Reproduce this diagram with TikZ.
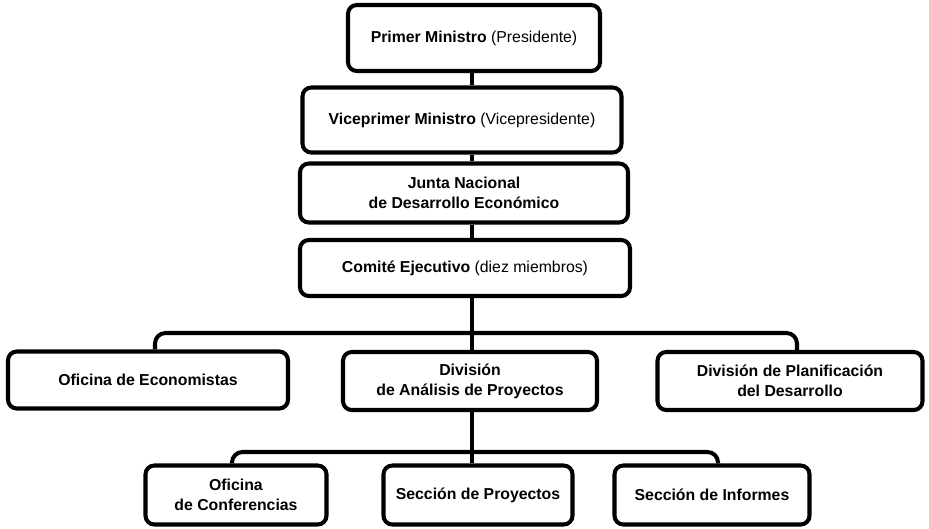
\documentclass[tikz,border=0pt]{standalone}
\usepackage{fontspec}
\setmainfont{Liberation Sans}
\usepackage{tikz}
\usetikzlibrary{shapes.geometric, arrows}
\tikzstyle{box} = [rectangle, rounded corners=5pt,
line width=2.3pt,
inner sep=0pt,
text centered, align=center,
font=\fontsize{9}{11.5}\selectfont,
draw=black]
\tikzstyle{link} = [line width=2.3pt, rounded corners=6pt]

\begin{document}
\begin{tikzpicture}[x=0.02cm, y=-0.02cm]
\useasboundingbox (0,0) rectangle (929,528);

% Niveau superieur
\node[box, minimum width=252*0.02cm, minimum height=66*0.02cm] (pm) at (474,38)
  {\textbf{Primer Ministro} (Presidente)};
\node[box, minimum width=319*0.02cm, minimum height=65*0.02cm] (vpm) at (462,120)
  {\textbf{Viceprimer Ministro} (Vicepresidente)};
\node[box, minimum width=328*0.02cm, minimum height=59*0.02cm] (junta) at (464,193)
  {\textbf{Junta Nacional}\\\textbf{de Desarrollo Económico}};
\node[box, minimum width=330*0.02cm, minimum height=56*0.02cm] (comite) at (465,268)
  {\textbf{Comité Ejecutivo} (diez miembros)};

% Divisions
\node[box, minimum width=280*0.02cm, minimum height=57*0.02cm] (ofeco) at (148,380)
  {\textbf{Oficina de Economistas}};
\node[box, minimum width=254*0.02cm, minimum height=58*0.02cm] (divan) at (470,381)
  {\textbf{División}\\\textbf{de Análisis de Proyectos}};
\node[box, minimum width=265*0.02cm, minimum height=58*0.02cm] (divpl) at (790,381)
  {\textbf{División de Planificación}\\\textbf{del Desarrollo}};

% Sections
\node[box, minimum width=181*0.02cm, minimum height=59*0.02cm] (ofconf) at (236,495)
  {\textbf{Oficina}\\\textbf{de Conferencias}};
\node[box, minimum width=189*0.02cm, minimum height=59*0.02cm] (secpro) at (478,495)
  {\textbf{Sección de Proyectos}};
\node[box, minimum width=195*0.02cm, minimum height=59*0.02cm] (secinf) at (712,495)
  {\textbf{Sección de Informes}};

% Points des barres
\coordinate (tronc) at (472,0);
\coordinate (bushaut) at (472,333);
\coordinate (busg) at (155,333);
\coordinate (busd) at (797,333);
\coordinate (busbas) at (472,452);
\coordinate (basg) at (232,452);
\coordinate (basd) at (718,452);

% Lignes verticales
\draw[link] (pm.south -| tronc) -- (vpm.north -| tronc);
\draw[link] (vpm.south -| tronc) -- (junta.north -| tronc);
\draw[link] (junta.south -| tronc) -- (comite.north -| tronc);
\draw[link] (comite.south -| tronc) -- (divan.north -| tronc);
\draw[link] (divan.south -| tronc) -- (secpro.north -| tronc);

% Barres horizontales
\draw[link] (ofeco.north -| busg) -- (busg) -- (busd) -- (divpl.north -| busd);
\draw[link] (ofconf.north -| basg) -- (basg) -- (basd) -- (secinf.north -| basd);

\end{tikzpicture}
\end{document}
